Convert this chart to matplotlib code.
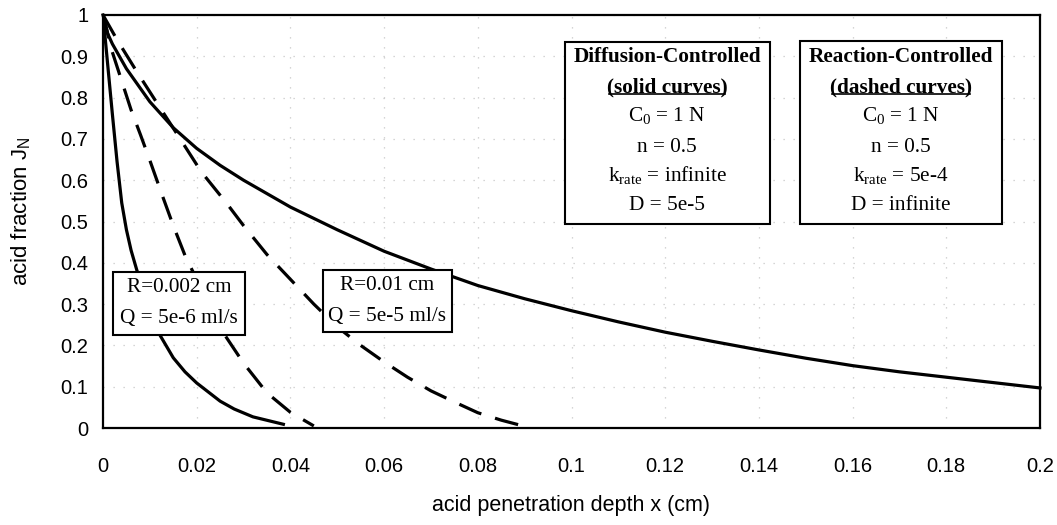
import matplotlib
matplotlib.use("Agg")
from matplotlib import pyplot as plt
from matplotlib.patches import Rectangle

# ---- data ----
# solid curves (diffusion-controlled)
x_solid_small = [0, 0.001, 0.002, 0.003, 0.004, 0.005, 0.006, 0.0072, 0.009, 0.0105, 0.0122,
                 0.015, 0.0175, 0.02, 0.025, 0.028, 0.032, 0.0385]
y_solid_small = [1.0, 0.88, 0.76, 0.645, 0.545, 0.48, 0.43, 0.383, 0.32, 0.27, 0.224,
                 0.17, 0.136, 0.109, 0.065, 0.046, 0.027, 0.009]

x_solid_big = [0, 0.001, 0.002, 0.005, 0.01, 0.015, 0.02, 0.025, 0.03, 0.04, 0.05, 0.06, 0.07,
               0.08, 0.09, 0.1, 0.11, 0.12, 0.13, 0.14, 0.15, 0.16, 0.17, 0.18, 0.19, 0.2]
y_solid_big = [1.0, 0.955, 0.93, 0.87, 0.79, 0.727, 0.677, 0.636, 0.60, 0.535, 0.48, 0.428, 0.385,
               0.345, 0.313, 0.284, 0.257, 0.232, 0.21, 0.189, 0.169, 0.151, 0.136, 0.123,
               0.11, 0.097]

# dashed curves (reaction-controlled)
x_dash_small = [0, 0.002, 0.004, 0.006, 0.008, 0.01, 0.0125, 0.015, 0.0176, 0.02, 0.023, 0.026,
                0.03, 0.035, 0.04, 0.045]
y_dash_small = [1.0, 0.91, 0.84, 0.77, 0.71, 0.648, 0.568, 0.49, 0.415, 0.36, 0.29, 0.225,
                0.157, 0.085, 0.038, 0.005]

x_dash_big = [0, 0.003, 0.0072, 0.0118, 0.015, 0.021, 0.0264, 0.03, 0.035, 0.04, 0.045, 0.05,
              0.055, 0.06, 0.065, 0.07, 0.075, 0.08, 0.085, 0.09]
y_dash_big = [1.0, 0.94, 0.863, 0.782, 0.726, 0.62, 0.544, 0.49, 0.42, 0.36, 0.30, 0.245,
              0.20, 0.16, 0.123, 0.09, 0.063, 0.037, 0.019, 0.004]

x_ticks = [0, 0.02, 0.04, 0.06, 0.08, 0.1, 0.12, 0.14, 0.16, 0.18, 0.2]
y_ticks = [0, 0.1, 0.2, 0.3, 0.4, 0.5, 0.6, 0.7, 0.8, 0.9, 1]

box_diff = ["Diffusion-Controlled", "(solid curves)", r"$\mathrm{C_0}$ = 1 N", "n = 0.5",
            r"$\mathrm{k_{rate}}$ = infinite", "D = 5e-5"]
box_react = ["Reaction-Controlled", "(dashed curves)", r"$\mathrm{C_0}$ = 1 N", "n = 0.5",
             r"$\mathrm{k_{rate}}$ = 5e-4", "D = infinite"]
label_small = ["R=0.002 cm", "Q = 5e-6 ml/s"]
label_big = ["R=0.01 cm", "Q = 5e-5 ml/s"]

plt.rcParams['mathtext.fontset'] = 'custom'
plt.rcParams['mathtext.rm'] = 'Liberation Serif'
plt.rcParams['mathtext.it'] = 'Liberation Serif:italic'
plt.rcParams['mathtext.sf'] = 'Liberation Sans'

fig = plt.figure(figsize=(10.57, 5.25), dpi=100)
ax = fig.add_axes([103/1057, 1-428/525, 937/1057, 413/525])

lw = 2.3
dash = (0, (7.5, 4.5))
ax.plot(x_solid_small, y_solid_small, color='black', lw=lw)
ax.plot(x_solid_big, y_solid_big, color='black', lw=lw, clip_on=False)
ax.plot(x_dash_small, y_dash_small, color='black', lw=lw, linestyle=dash)
ax.plot(x_dash_big, y_dash_big, color='black', lw=lw, linestyle=dash)

ax.set_xlim(0, 0.2)
ax.set_ylim(0, 1)
ax.set_xticks(x_ticks)
ax.set_yticks(y_ticks)
ax.set_xticklabels(['%g' % v for v in x_ticks])
ax.set_yticklabels(['%g' % v for v in y_ticks])
ax.tick_params(length=0, labelsize=14.5)
ax.tick_params(axis='y', pad=10.5)
ax.tick_params(axis='x', pad=21)
for lab in ax.get_xticklabels() + ax.get_yticklabels():
    lab.set_family('Liberation Sans')
ax.grid(True, color='#c8c8c8', linestyle=(0, (1, 7)), lw=0.9)
for s in ax.spines.values():
    s.set_linewidth(1.6)

fig.text(571/1057, 1-506/525, 'acid penetration depth x (cm)', family='Liberation Sans',
         fontsize=15.5, ha='center', va='center')
fig.text(21/1057, 1-211/525, r'acid fraction $\mathregular{J_N}$', family='Liberation Sans',
         fontsize=16, ha='center', va='center', rotation=90)


def px(x):
    return (x - 103) / 937


def py(y):
    return (428 - y) / 413


serif = 'Liberation Serif'
fs = 15.3


def big_box(lines, x0, x1, y0, y1, cx):
    ax.add_patch(Rectangle((px(x0), py(y1)), px(x1) - px(x0), py(y0) - py(y1),
                           transform=ax.transAxes, fill=True, facecolor='white',
                           edgecolor='black', lw=1.5, zorder=4))
    ys = [57, 87, 115, 147, 175, 205]
    texts = []
    for i, (s, yy) in enumerate(zip(lines, ys)):
        t = ax.text(px(cx), py(yy), s, transform=ax.transAxes, ha='center', va='center',
                    family=serif, fontsize=fs, fontweight='bold' if i < 2 else 'normal', zorder=5)
        texts.append(t)
    return texts


def small_box(lines, x0, x1, y0, y1, cx, ys):
    ax.add_patch(Rectangle((px(x0), py(y1)), px(x1) - px(x0), py(y0) - py(y1),
                           transform=ax.transAxes, fill=True, facecolor='white',
                           edgecolor='black', lw=1.5, zorder=4))
    for s, yy in zip(lines, ys):
        ax.text(px(cx), py(yy), s, transform=ax.transAxes, ha='center', va='center',
                family=serif, fontsize=fs, zorder=5)


t_diff = big_box(box_diff, 565, 770, 42, 224, 667)
t_react = big_box(box_react, 800, 1002, 41, 224, 901)
small_box(label_small, 113, 245, 272, 335, 179, [288, 318])
small_box(label_big, 323, 452, 270, 332, 387, [286, 316])

# underline the "(solid curves)" / "(dashed curves)" lines
fig.canvas.draw()
r = fig.canvas.get_renderer()
inv = ax.transAxes.inverted()
for t in (t_diff[1], t_react[1]):
    bb = t.get_window_extent(r)
    (a0, b0), (a1, b1) = inv.transform([(bb.x0, bb.y0), (bb.x1, bb.y1)])
    ax.plot([a0 + 0.002, a1 - 0.002], [b0 + 0.007, b0 + 0.007], transform=ax.transAxes,
            color='black', lw=1.2, zorder=6)

fig.savefig('out.png', dpi=100)
